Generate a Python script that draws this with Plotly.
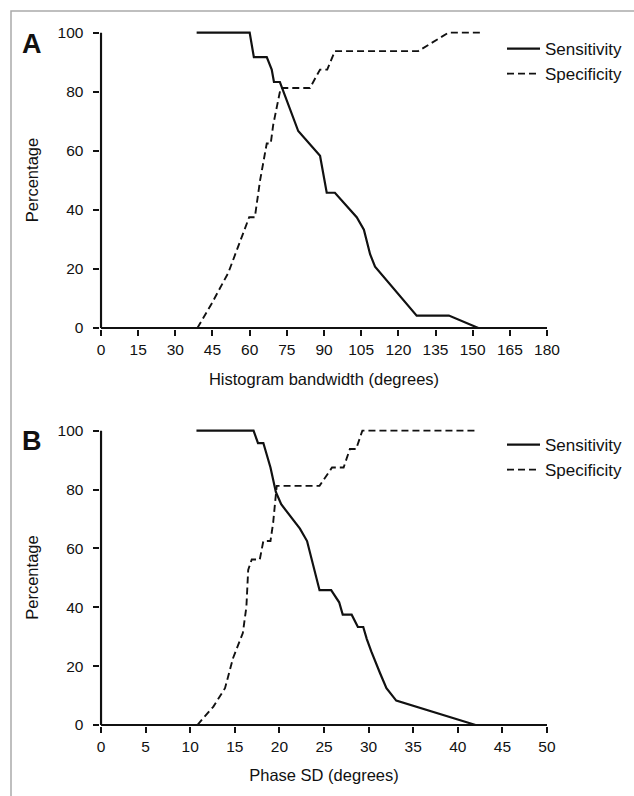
import plotly.graph_objects as go

# ---------------- data ----------------
# Panel A: histogram bandwidth (degrees)
a_sens_x = [38.6, 60.0, 61.7, 66.9, 68.9, 69.8, 72.2, 79.6, 88.4, 91.1, 94.4, 103.2, 106.1, 108.6, 110.6, 116.6, 123.4, 127.4, 140.4, 152.3]
a_sens_y = [100, 100, 91.7, 91.7, 87.5, 83.3, 83.3, 66.7, 58.3, 45.8, 45.8, 37.5, 33.3, 25.0, 20.8, 15.0, 8.3, 4.2, 4.2, 0]
a_spec_x = [38.9, 44.7, 51.4, 56.8, 59.8, 62.1, 64.2, 66.9, 68.5, 69.5, 72.5, 84.3, 88.4, 91.3, 94.4, 128.0, 140.2, 152.9]
a_spec_y = [0, 8.3, 18.75, 31.25, 37.5, 37.5, 50.0, 62.5, 62.5, 68.75, 81.25, 81.25, 87.5, 87.5, 93.75, 93.75, 100, 100]

# Panel B: phase SD (degrees)
b_sens_x = [10.7, 17.1, 17.6, 18.2, 19.0, 19.3, 19.6, 20.2, 21.2, 22.3, 23.1, 24.5, 25.8, 26.7, 27.1, 28.1, 28.8, 29.4, 29.8, 30.3, 31.3, 32.0, 33.1, 42.0]
b_sens_y = [100, 100, 95.8, 95.8, 87.5, 83.3, 79.2, 75.0, 71.0, 66.7, 62.5, 45.8, 45.8, 41.7, 37.5, 37.5, 33.3, 33.3, 29.2, 25.0, 17.5, 12.5, 8.3, 0]
b_spec_x = [10.8, 12.6, 13.9, 14.8, 15.9, 16.3, 16.5, 16.9, 17.8, 18.2, 19.0, 19.3, 19.7, 24.5, 25.9, 27.2, 27.9, 28.6, 29.3, 42.0]
b_spec_y = [0, 6.25, 12.5, 22.7, 31.25, 40.2, 52.7, 56.25, 56.25, 62.5, 62.5, 68.75, 81.25, 81.25, 87.5, 87.5, 93.75, 93.75, 100, 100]

a_ticks = list(range(0, 181, 15))
b_ticks = list(range(0, 51, 5))
y_ticks = list(range(0, 101, 20))

FONT = "Liberation Sans, Arial, sans-serif"
INK = "#111111"
W, H = 634, 796

fig = go.Figure()

solid = dict(color=INK, width=2.2)
dashed = dict(color=INK, width=1.9, dash="7px,4px")

fig.add_trace(go.Scatter(x=a_sens_x, y=a_sens_y, mode="lines", line=solid, name="Sensitivity",
                         xaxis="x", yaxis="y", legend="legend"))
fig.add_trace(go.Scatter(x=a_spec_x, y=a_spec_y, mode="lines", line=dashed, name="Specificity",
                         xaxis="x", yaxis="y", legend="legend"))
fig.add_trace(go.Scatter(x=b_sens_x, y=b_sens_y, mode="lines", line=solid, name="Sensitivity",
                         xaxis="x2", yaxis="y2", legend="legend2"))
fig.add_trace(go.Scatter(x=b_spec_x, y=b_spec_y, mode="lines", line=dashed, name="Specificity",
                         xaxis="x2", yaxis="y2", legend="legend2"))

def px_x(p):
    return p / W

def px_y(p):
    return 1 - p / H

tickfont = dict(family=FONT, size=15.5, color=INK)
titlefont = dict(family=FONT, size=16.5, color=INK)

xcommon = dict(showgrid=False, zeroline=False, showline=False, ticks="outside", ticklen=6,
               tickwidth=2, tickcolor=INK, tickfont=tickfont, title_font=titlefont,
               automargin=False, domain=[px_x(99.5), px_x(548.5)])
ycommon = dict(showgrid=False, zeroline=False, showline=False, ticks="outside", ticklen=6,
               tickwidth=2, tickcolor=INK, tickfont=tickfont, title_font=titlefont,
               automargin=False, ticklabelstandoff=6,
               tickmode="array", tickvals=y_ticks, range=[-0.4, 100.6])

legfont = dict(family=FONT, size=17, color=INK)

fig.update_layout(
    width=W, height=H, margin=dict(l=0, r=0, t=0, b=0, autoexpand=False),
    paper_bgcolor="white", plot_bgcolor="white",
    font=dict(family=FONT, color=INK),
    xaxis=dict(xcommon, anchor="y", range=[-0.6, 180.6], tickmode="array", tickvals=a_ticks,
               title=dict(text="Histogram bandwidth (degrees)", standoff=16)),
    yaxis=dict(ycommon, anchor="x", domain=[px_y(329.2), px_y(30.9)],
               title=dict(text="Percentage", standoff=14)),
    xaxis2=dict(xcommon, anchor="y2", range=[-0.17, 50.17], tickmode="array", tickvals=b_ticks,
                title=dict(text="Phase SD (degrees)", standoff=15)),
    yaxis2=dict(ycommon, anchor="x2", domain=[px_y(726.2), px_y(428.9)],
                title=dict(text="Percentage", standoff=14)),
    legend=dict(x=px_x(502), y=px_y(31), xanchor="left", yanchor="top",
                font=legfont, bgcolor="rgba(0,0,0,0)", itemwidth=33, tracegroupgap=0),
    legend2=dict(x=px_x(502), y=px_y(427), xanchor="left", yanchor="top",
                 font=legfont, bgcolor="rgba(0,0,0,0)", itemwidth=33, tracegroupgap=0),
    showlegend=True,
)

shapes = []
# axis lines drawn exactly from 0 to the last tick
for xr, yr, xmax in (("x", "y", 180), ("x2", "y2", 50)):
    shapes.append(dict(type="line", xref=xr, yref=yr, x0=0, x1=0, y0=0, y1=100,
                       line=dict(color=INK, width=2.2)))
    shapes.append(dict(type="line", xref=xr, yref=yr, x0=0, x1=xmax, y0=0, y1=0,
                       line=dict(color=INK, width=2.2)))
# thin grey frame around the figure
shapes.append(dict(type="rect", xref="paper", yref="paper", x0=px_x(11), x1=px_x(700),
                   y0=px_y(900), y1=px_y(11), line=dict(color="#aaaaaa", width=1.5),
                   fillcolor="rgba(0,0,0,0)", layer="below"))
fig.update_layout(shapes=shapes)

fig.add_annotation(text="<b>A</b>", xref="paper", yref="paper", x=px_x(32), y=px_y(44),
                   xanchor="center", yanchor="middle", showarrow=False,
                   font=dict(family=FONT, size=27, color=INK))
fig.add_annotation(text="<b>B</b>", xref="paper", yref="paper", x=px_x(32), y=px_y(441),
                   xanchor="center", yanchor="middle", showarrow=False,
                   font=dict(family=FONT, size=27, color=INK))

fig.write_html("out.html")
